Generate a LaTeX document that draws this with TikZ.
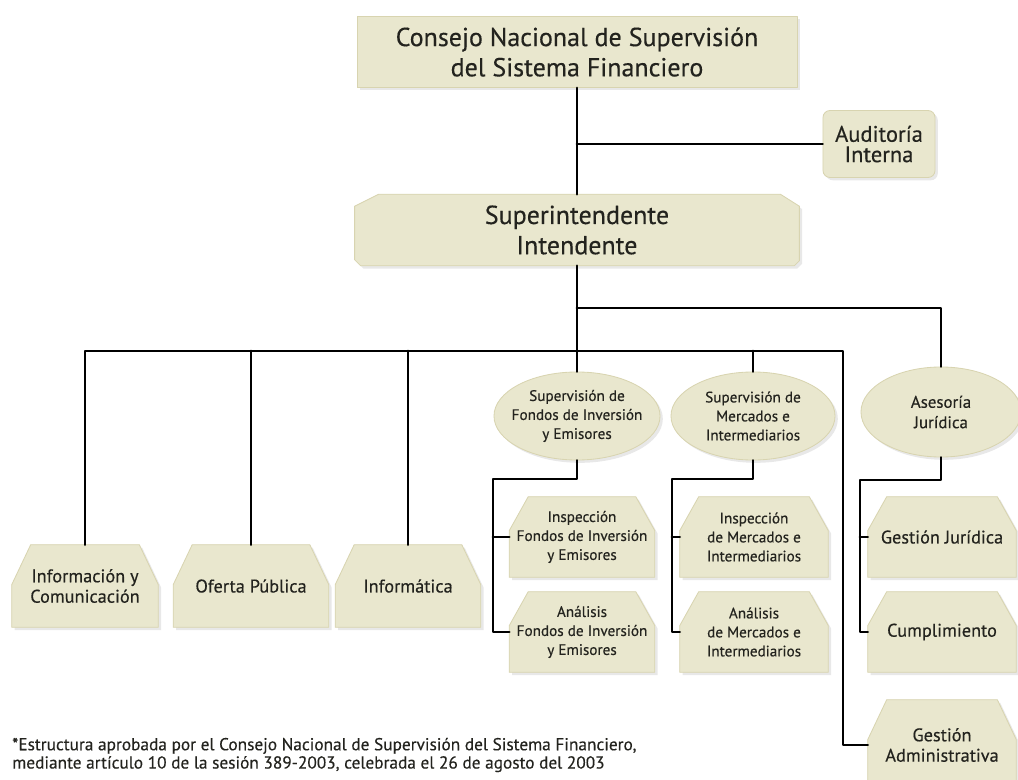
\documentclass[tikz,border=0pt]{standalone}
\usepackage{fontspec}
\setmainfont{PT Sans}[FakeBold=0.35]
\usetikzlibrary{shapes.geometric,shadows,backgrounds,calc}

\definecolor{boxfill}{RGB}{233,231,206}
\definecolor{boxline}{RGB}{216,212,176}
\definecolor{inkgray}{RGB}{35,35,30}

\tikzset{
  orgline/.style={line width=2pt, black},
  boxbg/.style={fill=boxfill, draw=boxline, line width=0.6pt,
    drop shadow={opacity=0.18, shadow xshift=2pt, shadow yshift=-2pt}},
  boxtext/.style={inner sep=0pt, align=center, text=inkgray},
  bigtext/.style={boxtext, font=\fontsize{18.5}{21.5}\selectfont},
  audtext/.style={boxtext, font=\fontsize{16}{14.5}\selectfont},
  midtext/.style={boxtext, font=\fontsize{13}{14.5}\selectfont},
  smalltext/.style={boxtext, font=\fontsize{10.8}{13.5}\selectfont},
  ovalbox/.style={ellipse, inner sep=0pt, boxbg},
}

% hexagonal box behind a named node: node, slant height
\newcommand{\hexback}[2]{%
  \path[boxbg] ($(#1.north west)+(19,0)$) -- ($(#1.north east)+(-19,0)$)
    -- ($(#1.north east)+(0,#2)$) -- (#1.south east) -- (#1.south west)
    -- ($(#1.north west)+(0,#2)$) -- cycle;}

\begin{document}
\begin{tikzpicture}[x=0.025cm, y=-0.025cm, line cap=round, line join=round]

  \useasboundingbox (0,0) rectangle (1018,780);

  % top levels
  \node[bigtext, boxbg, minimum width=11cm, minimum height=1.775cm] (consejo) at (577,52)
    {Consejo Nacional de Supervisión\\del Sistema Financiero};
  \node[audtext, boxbg, rounded corners=5pt, minimum width=2.8cm, minimum height=1.675cm] (auditoria) at (879,144)
    {Auditoría\\Interna};
  \node[bigtext, minimum width=11.1cm, minimum height=1.775cm] (superint) at (577,230)
    {Superintendente\\Intendente};

  % ellipses
  \node[ovalbox, minimum width=4.15cm, minimum height=2.2cm,
    label={[smalltext]center:Supervisión de\\Fondos de Inversión\\y Emisores}] (supfondos) at (577,416) {};
  \node[ovalbox, minimum width=4.1cm, minimum height=2.2cm,
    label={[smalltext]center:Supervisión de\\Mercados e\\Intermediarios}] (supmerc) at (753,416) {};
  \node[ovalbox, minimum width=4cm, minimum height=2.25cm,
    label={[boxtext, font=\fontsize{12}{14.5}\selectfont]center:Asesoría\\Jurídica}] (asesoria) at (941,412) {};

  % bottom row
  \node[midtext, minimum width=3.65cm, minimum height=2.05cm] (infocom) at (85,586) {Información y\\Comunicación};
  \node[midtext, minimum width=3.875cm, minimum height=2.05cm] (oferta) at (251,586) {Oferta Pública};
  \node[midtext, minimum width=3.625cm, minimum height=2.05cm] (informatica) at (408,586) {Informática};

  \node[smalltext, minimum width=3.625cm, minimum height=2cm] (inspfon) at (582,537) {Inspección\\Fondos de Inversión\\y Emisores};
  \node[smalltext, minimum width=3.625cm, minimum height=2cm] (analfon) at (582,632) {Análisis\\Fondos de Inversión\\y Emisores};
  \node[smalltext, minimum width=3.7cm, minimum height=2cm] (inspmerc) at (754,537) {Inspección\\de Mercados e\\Intermediarios};
  \node[smalltext, minimum width=3.7cm, minimum height=2cm] (analmerc) at (754,632) {Análisis\\de Mercados e\\Intermediarios};

  \node[midtext, minimum width=3.7cm, minimum height=2cm] (gestjur) at (942,537) {Gestión Jurídica};
  \node[midtext, minimum width=3.7cm, minimum height=2cm] (cumpl) at (942,632) {Cumplimiento};
  \node[midtext, minimum width=3.7cm, minimum height=2.25cm] (gestadm) at (942,745) {Gestión\\Administrativa};

  \node[anchor=west, align=left, inner sep=0pt, text=inkgray, font=\fontsize{12.3}{13}\selectfont] (nota) at (12,755)
    {*Estructura aprobada por el Consejo Nacional de Supervisión del Sistema Financiero,\\
     mediante artículo 10 de la sesión 389-2003, celebrada el 26 de agosto del 2003};

  \begin{pgfonlayer}{background}
    \path[boxbg] ($(superint.north west)+(24,0)$) -- ($(superint.north east)+(-19,0)$)
      -- ($(superint.north east)+(0,12)$) -- ($(superint.south east)+(0,-5)$)
      -- ($(superint.south east)+(-5,0)$) -- ($(superint.south west)+(6,0)$)
      -- ($(superint.south west)+(0,-6)$) -- ($(superint.north west)+(0,12)$) -- cycle;
    \hexback{infocom}{40}
    \hexback{oferta}{40}
    \hexback{informatica}{40}
    \hexback{inspfon}{34}
    \hexback{analfon}{34}
    \hexback{inspmerc}{34}
    \hexback{analmerc}{34}
    \hexback{gestjur}{34}
    \hexback{cumpl}{34}
    \hexback{gestadm}{40}
  \end{pgfonlayer}

  % connectors
  \coordinate (upperbus) at (577,308);
  \coordinate (lowbus) at (0,351);
  \coordinate (admdrop) at (843,351);
  \coordinate (fonbend) at (493,479);
  \coordinate (mercbend) at (672,479);
  \coordinate (asebend) at (860,480);

  \draw[orgline] (consejo) -- (superint);
  \draw[orgline] (consejo.south |- auditoria.west) -- (auditoria.west);
  \draw[orgline] (superint) -- (supfondos);
  \draw[orgline] (upperbus) -| (asesoria.north);

  \draw[orgline] (infocom.north) -- (infocom.north |- lowbus) -- (admdrop) |- (gestadm.west);
  \draw[orgline] (oferta.north) -- (oferta.north |- lowbus);
  \draw[orgline] (informatica.north) -- (informatica.north |- lowbus);
  \draw[orgline] (supmerc.north) -- (supmerc.north |- lowbus);

  \draw[orgline] (supfondos.south) |- (fonbend) |- (analfon.west);
  \draw[orgline] (fonbend |- inspfon.west) -- (inspfon.west);
  \draw[orgline] (supmerc.south) |- (mercbend) |- (analmerc.west);
  \draw[orgline] (mercbend |- inspmerc.west) -- (inspmerc.west);
  \draw[orgline] (asesoria.south) |- (asebend) |- (cumpl.west);
  \draw[orgline] (asebend |- gestjur.west) -- (gestjur.west);

\end{tikzpicture}
\end{document}
